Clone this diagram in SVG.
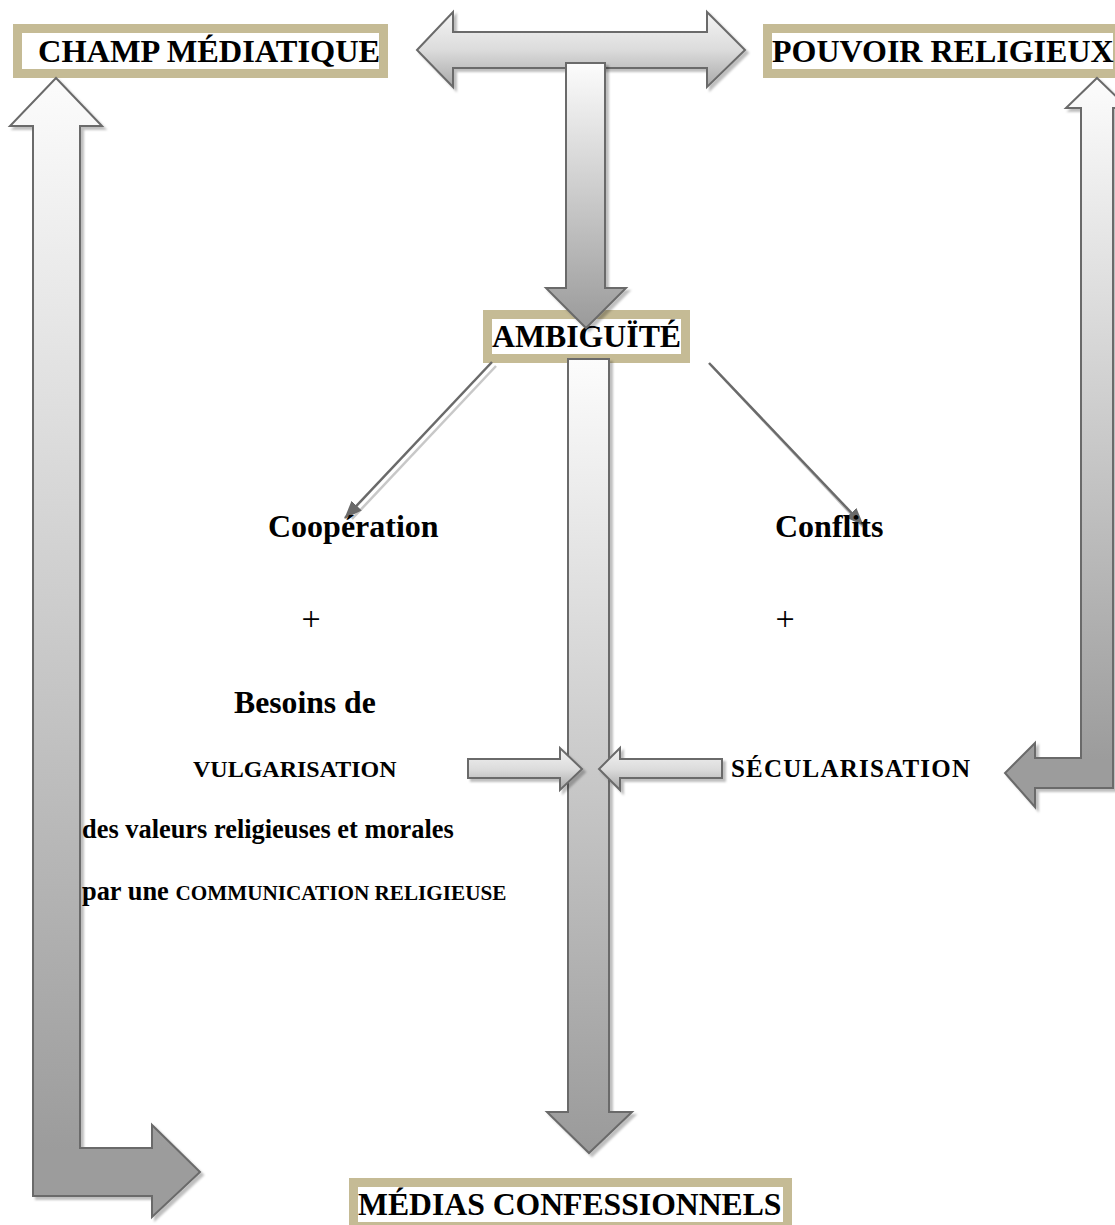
<svg xmlns="http://www.w3.org/2000/svg" width="1115" height="1225" viewBox="0 0 1115 1225">
<style>
.box{fill:#fff;stroke:#c5bb95;stroke-width:9}
.arw{stroke:#6a6a6a;stroke-width:2;stroke-linejoin:miter}
.t{font-family:"Liberation Serif","Times New Roman",serif;font-weight:bold;fill:#000}
.n{font-family:"Liberation Serif","Times New Roman",serif;fill:#000}
.ln{stroke:#6a6a6a;stroke-width:2.5;fill:none}
</style>
<defs>
<linearGradient id="gv" x1="0" y1="0" x2="0" y2="1">
<stop offset="0" stop-color="#fcfcfc"/>
<stop offset="1" stop-color="#9a9a9a"/>
</linearGradient>
<linearGradient id="gh" x1="0" y1="0" x2="0" y2="1">
<stop offset="0" stop-color="#f4f4f4"/>
<stop offset="0.5" stop-color="#dcdcdc"/>
<stop offset="1" stop-color="#a8a8a8"/>
</linearGradient>
<linearGradient id="gL" gradientUnits="userSpaceOnUse" x1="0" y1="78" x2="0" y2="1150">
<stop offset="0" stop-color="#fcfcfc"/>
<stop offset="1" stop-color="#9c9c9c"/>
</linearGradient>
<linearGradient id="gR" gradientUnits="userSpaceOnUse" x1="0" y1="78" x2="0" y2="760">
<stop offset="0" stop-color="#fcfcfc"/>
<stop offset="1" stop-color="#9c9c9c"/>
</linearGradient>
<filter id="sh" x="-20%" y="-20%" width="140%" height="140%">
<feDropShadow dx="3" dy="3" stdDeviation="0.8" flood-color="#000" flood-opacity="0.25"/>
</filter>
<marker id="ah" markerWidth="18" markerHeight="14" refX="17" refY="7" orient="auto" markerUnits="userSpaceOnUse" viewBox="0 0 18 14">
<path d="M0,0 L18,7 L0,14 Z" fill="#6a6a6a"/>
</marker>
</defs>

<g id="champ-mediatique">
<rect class="box" x="17.5" y="28.5" width="366" height="45"/>
<text class="t" x="38" y="62" font-size="32.4">CHAMP MÉDIATIQUE</text>
</g>
<g id="pouvoir-religieux">
<rect class="box" x="767.5" y="28.5" width="350" height="45"/>
<text class="t" x="772" y="62" font-size="32">POUVOIR RELIGIEUX</text>
</g>
<g id="ambiguite">
<rect class="box" x="487.5" y="314.5" width="198" height="44"/>
<text class="t" x="492" y="347" font-size="31.8">AMBIGUÏTÉ</text>
</g>
<g id="medias-confessionnels">
<rect class="box" x="353.5" y="1182.5" width="434" height="44"/>
<text class="t" x="358" y="1215" font-size="31.7">MÉDIAS CONFESSIONNELS</text>
</g>

<g id="connectors">
<polygon class="arw" filter="url(#sh)" fill="url(#gh)" points="417,50 453,12 453,32 707,32 707,12 745,50 707,87 707,68 453,68 453,87"/>
<polygon class="arw" filter="url(#sh)" fill="url(#gv)" points="566,63 605,63 605,288 626,288 586,328 546,288 566,288"/>
<polygon class="arw" filter="url(#sh)" fill="url(#gv)" points="568,359 609,359 609,1112 632,1112 589,1153 547,1112 568,1112"/>
<polygon class="arw" filter="url(#sh)" fill="url(#gL)" points="56,78 102,126 80,126 80,1148 152,1148 152,1125 200,1172 152,1217 152,1196 33,1196 33,126 10,126"/>
<polygon class="arw" filter="url(#sh)" fill="url(#gR)" points="1097,78 1128,108 1113,108 1113,788 1035,788 1035,807 1005,773 1035,743 1035,758 1081,758 1081,108 1066,108"/>
<polygon class="arw" filter="url(#sh)" fill="url(#gh)" points="468,759 560,759 560,748 582,769 560,790 560,778 468,778"/>
<polygon class="arw" filter="url(#sh)" fill="url(#gh)" points="722,759 620,759 620,748 599,769 620,790 620,778 722,778"/>
<line x1="496" y1="366" x2="352" y2="519" stroke="#c8c8c8" stroke-width="2.5"/>
<line class="ln" x1="492" y1="362" x2="345" y2="518" marker-end="url(#ah)"/>
<line x1="711" y1="365" x2="863" y2="527" stroke="#c8c8c8" stroke-width="2.5"/>
<line class="ln" x1="709" y1="363" x2="863" y2="525" marker-end="url(#ah)"/>
</g>

<g id="texts">
<text class="t" x="268" y="537" font-size="32">Coopération</text>
<text class="t" x="775" y="537" font-size="32">Conflits</text>
<text class="n" x="311" y="630" font-size="34" text-anchor="middle">+</text>
<text class="n" x="785" y="630" font-size="34" text-anchor="middle">+</text>
<text class="t" x="234" y="713" font-size="31.7">Besoins de</text>
<text class="t" x="193" y="777" font-size="24">VULGARISATION</text>
<text class="t" x="731" y="777" font-size="25" textLength="239" lengthAdjust="spacing">SÉCULARISATION</text>
<text class="t" x="82" y="838" font-size="26.4">des valeurs religieuses et morales</text>
<text class="t" x="82" y="900" font-size="26.4">par une <tspan font-size="21.2">COMMUNICATION RELIGIEUSE</tspan></text>
</g>
</svg>
